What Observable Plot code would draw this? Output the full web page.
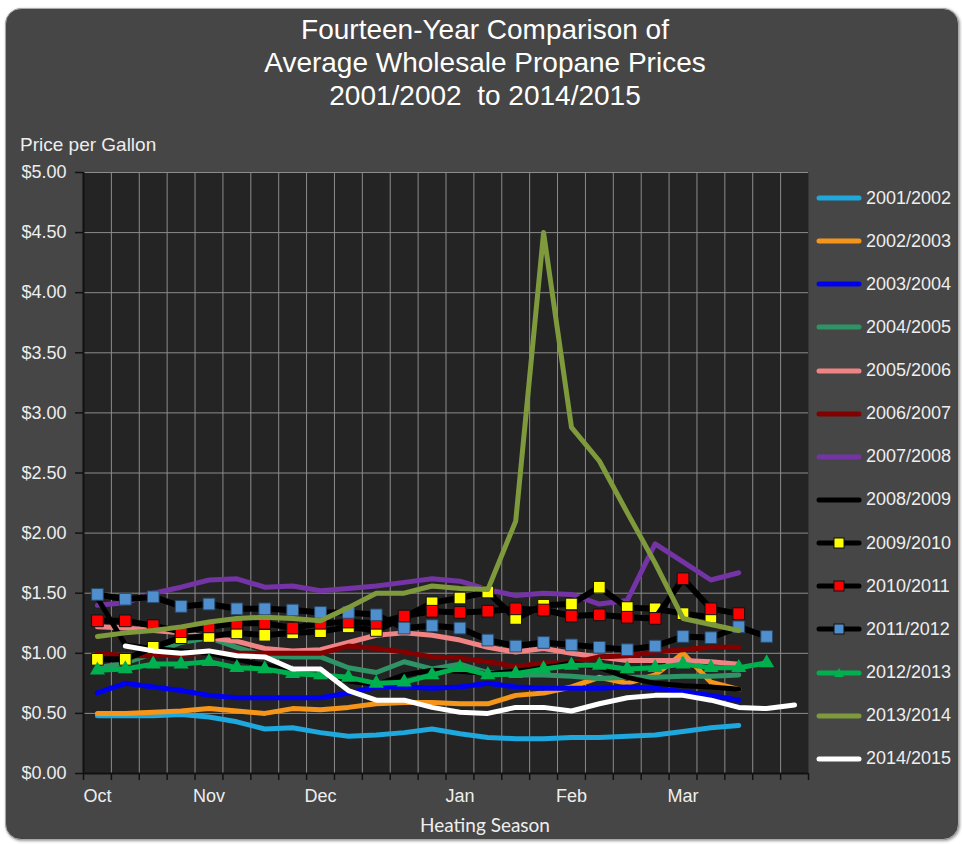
<!DOCTYPE html>
<html><head><meta charset="utf-8">
<script src="https://cdn.jsdelivr.net/npm/d3@7"></script>
<script src="https://cdn.jsdelivr.net/npm/@observablehq/plot@0.6"></script>
<style>
html,body{margin:0;padding:0;background:#fff;}
#wrap{position:relative;width:962px;height:844px;overflow:hidden;font-family:"Liberation Sans",Arial,sans-serif;}
#panel{position:absolute;left:5px;top:8px;width:952px;height:830px;background:#464646;border:1px solid #a8a8a8;border-radius:16px;box-shadow:1px 1px 3px rgba(0,0,0,0.4);}
#chart{position:absolute;left:0;top:0;}
.title{position:absolute;left:0;width:970px;text-align:center;color:#fff;font-size:28px;line-height:33px;white-space:nowrap;}
.lab{position:absolute;color:#eee;white-space:nowrap;line-height:1;}
#legend{position:absolute;left:816px;top:0;}
.row{position:absolute;left:0;height:24px;display:flex;align-items:center;color:#eee;font-size:18px;white-space:nowrap;}
.row svg{margin-right:4px;}
</style></head>
<body>
<div id="wrap">
  <div id="panel"></div>
  <div id="chart"></div>
  <div class="title" style="top:13px">Fourteen-Year Comparison of</div>
  <div class="title" style="top:46px">Average Wholesale Propane Prices</div>
  <div class="title" style="top:79px">2001/2002&nbsp; to 2014/2015</div>
  <div class="lab" style="left:20px;top:135px;font-size:19px;">Price per Gallon</div>
  <div class="lab" style="left:485px;top:815px;font-size:19px;font-family:Lato,sans-serif;transform:translateX(-50%);">Heating Season</div>
  <div id="legend"></div>
</div>
<script>
// ---- data ----
const monthLabels = ["Oct", "Nov", "Dec", "Jan", "Feb", "Mar"];
const monthWeekIndex = [0, 4, 8, 13, 17, 21];
const weekCount = 26;
const priceTicks = [0, 0.5, 1, 1.5, 2, 2.5, 3, 3.5, 4, 4.5, 5];

const seriesNames = ["2001/2002","2002/2003","2003/2004","2004/2005","2005/2006","2006/2007","2007/2008",
  "2008/2009","2009/2010","2010/2011","2011/2012","2012/2013","2013/2014","2014/2015"];

const s2001 = [0.48,0.48,0.48,0.49,0.47,0.43,0.37,0.38,0.34,0.31,0.32,0.34,0.37,0.33,0.30,0.29,0.29,0.30,0.30,0.31,0.32,0.35,0.38,0.40];
const s2002 = [0.50,0.50,0.51,0.52,0.54,0.52,0.50,0.54,0.53,0.55,0.58,0.59,0.59,0.58,0.58,0.65,0.67,0.72,0.80,0.75,0.82,1.00,0.76,0.70];
const s2003 = [0.67,0.75,0.72,0.69,0.65,0.63,0.63,0.63,0.63,0.67,0.72,0.72,0.71,0.72,0.75,0.72,0.71,0.71,0.71,0.72,0.71,0.68,0.65,0.61];
const s2004 = [0.88,0.92,1.00,1.09,1.13,1.05,0.98,0.97,0.97,0.88,0.84,0.93,0.87,0.91,0.84,0.82,0.82,0.81,0.79,0.80,0.80,0.81,0.81,0.82];
const s2005 = [1.22,1.21,1.19,1.17,1.13,1.10,1.04,1.02,1.03,1.09,1.15,1.17,1.15,1.11,1.05,1.01,1.04,1.00,0.97,0.94,0.94,0.94,0.93,0.91];
const s2006 = [1.00,0.98,0.98,0.99,1.00,1.00,1.00,1.00,1.00,1.06,1.04,1.01,0.97,0.96,0.93,0.89,0.92,0.92,0.97,0.98,1.01,1.03,1.05,1.05];
const s2007 = [1.40,1.42,1.50,1.55,1.61,1.62,1.55,1.56,1.52,1.54,1.56,1.59,1.62,1.60,1.53,1.48,1.50,1.49,1.41,1.44,1.91,1.76,1.61,1.67];
const s2008 = [1.46,1.07,1.04,1.02,1.00,0.95,0.90,0.86,0.84,0.77,0.74,0.82,0.86,0.85,0.83,0.85,0.88,0.92,0.88,0.80,0.75,0.73,0.72,0.70];
const s2009 = [0.95,0.95,1.05,1.13,1.14,1.17,1.15,1.17,1.18,1.22,1.19,1.30,1.42,1.46,1.51,1.29,1.40,1.41,1.55,1.38,1.37,1.33,1.30];
const s2010 = [1.27,1.27,1.23,1.18,1.22,1.25,1.25,1.21,1.25,1.26,1.25,1.31,1.35,1.34,1.35,1.37,1.36,1.31,1.32,1.30,1.29,1.62,1.37,1.33];
const s2011 = [1.49,1.45,1.47,1.39,1.41,1.37,1.37,1.36,1.34,1.34,1.32,1.21,1.23,1.21,1.11,1.06,1.09,1.07,1.05,1.03,1.06,1.14,1.13,1.22,1.14];
const s2012 = [0.86,0.87,0.91,0.91,0.93,0.88,0.87,0.83,0.82,0.80,0.75,0.76,0.82,0.88,0.82,0.83,0.87,0.90,0.90,0.87,0.88,0.91,0.88,0.88,0.92];
const s2013 = [1.14,1.17,1.19,1.22,1.26,1.29,1.30,1.29,1.27,1.38,1.50,1.50,1.56,1.54,1.53,2.10,4.50,2.88,2.60,2.17,1.75,1.29,1.24,1.19];
const s2014 = [null,1.06,1.02,1.00,1.02,0.98,0.97,0.87,0.87,0.69,0.61,0.61,0.55,0.51,0.50,0.55,0.55,0.52,0.58,0.63,0.65,0.65,0.61,0.55,0.54,0.57];

const seriesValues = [s2001,s2002,s2003,s2004,s2005,s2006,s2007,s2008,s2009,s2010,s2011,s2012,s2013,s2014];

// ---- styles ----
const lineColors = ["#1ea8de","#f5961a","#0000f0","#2e9466","#f08484","#820000","#7434a6",
  "#000000","#000000","#000000","#000000","#00b04e","#7f9a3c","#ffffff"];
const markerFill = [null,null,null,null,null,null,null,null,"#ffff00","#ff0000","#4f8fce","#00b04e",null,null];
const markerSymbol = [null,null,null,null,null,null,null,null,"square","square","square","triangle",null,null];

const marks = [
  Plot.frame({fill: "#242424", stroke: null}),
  Plot.ruleX(d3.range(1, weekCount).map(k => k - 0.5), {stroke: "#8c8c8c", strokeWidth: 1}),
  Plot.ruleY(priceTicks.filter(t => t > 0), {stroke: "#8c8c8c", strokeWidth: 1}),
  Plot.axisY({ticks: priceTicks, tickFormat: d => "$" + d.toFixed(2), tickSize: 8, tickPadding: 9,
    stroke: "#111", strokeWidth: 1.5, fill: "#eeeeee", fontSize: 18, label: null}),
  Plot.axisX({ticks: d3.range(0, weekCount + 1).map(k => k - 0.5), tickSize: 7, stroke: "#111",
    strokeWidth: 1.5, fill: "none", label: null}),
  Plot.axisX({ticks: monthWeekIndex, tickFormat: i => monthLabels[monthWeekIndex.indexOf(i)], tickSize: 0,
    tickPadding: 16, fill: "#eeeeee", fontSize: 18, label: null}),
  Plot.ruleX([-0.5], {stroke: "#111", strokeWidth: 2}),
  Plot.ruleY([0], {stroke: "#111", strokeWidth: 2})
];

seriesNames.forEach((name, s) => {
  const pts = seriesValues[s].map((v, i) => ({i, v})).filter(d => d.v != null);
  const w = markerSymbol[s] === "square" ? 6 : 5;
  marks.push(Plot.line(pts, {x: "i", y: "v", stroke: lineColors[s], strokeWidth: w,
    strokeLinejoin: "round", strokeLinecap: "round"}));
  if (markerSymbol[s] === "square") {
    marks.push(Plot.dot(pts, {x: "i", y: "v", symbol: "square", r: 6.6, fill: markerFill[s],
      stroke: s === 10 ? "#2a4a6a" : "#111", strokeWidth: 1}));
  } else if (markerSymbol[s] === "triangle") {
    marks.push(Plot.dot(pts, {x: "i", y: "v", symbol: "triangle", r: 5.6, fill: markerFill[s], stroke: null}));
  }
});

const chart = Plot.plot({
  width: 962, height: 844,
  marginLeft: 83, marginRight: 154, marginTop: 172, marginBottom: 71,
  style: {background: "transparent", fontFamily: "'Liberation Sans', Arial, sans-serif", color: "#eee", overflow: "visible"},
  x: {type: "linear", domain: [-0.5, weekCount - 0.5]},
  y: {type: "linear", domain: [0, 5]},
  marks
});
document.getElementById("chart").appendChild(chart);

// ---- legend ----
const legend = document.getElementById("legend");
seriesNames.forEach((name, s) => {
  const row = document.createElement("div");
  row.className = "row";
  row.style.top = (186 + 43.14 * s) + "px";
  let sw = `<svg width="46" height="20" viewBox="0 0 46 20"><line x1="3" y1="10" x2="43" y2="10" stroke="${lineColors[s]}" stroke-width="5" stroke-linecap="round"/>`;
  if (markerSymbol[s] === "square") {
    sw += `<rect x="18" y="5" width="10" height="10" fill="${markerFill[s]}" stroke="#111" stroke-width="1"/>`;
  } else if (markerSymbol[s] === "triangle") {
    sw += `<path d="M23,5 L28,14 L18,14 Z" fill="${markerFill[s]}"/>`;
  }
  sw += `</svg>`;
  row.innerHTML = sw + `<span>${name}</span>`;
  legend.appendChild(row);
});
</script>
</body></html>
